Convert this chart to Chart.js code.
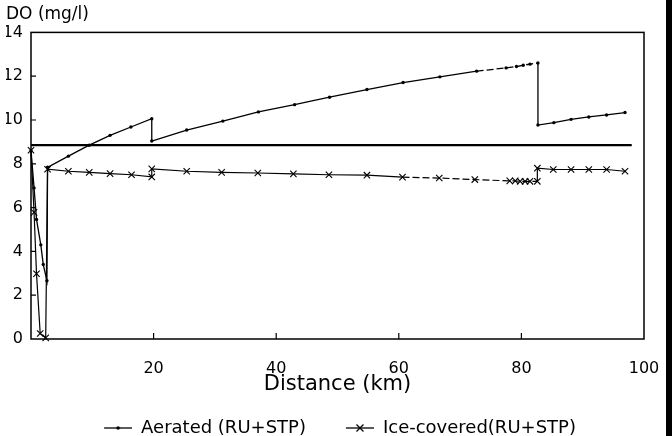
<!DOCTYPE html>
<html>
<head>
<meta charset="utf-8">
<script src="https://cdn.jsdelivr.net/npm/chart.js@4.4.0/dist/chart.umd.min.js"></script>
<style>
  html, body { margin: 0; padding: 0; background: #fff; }
  #wrap { position: relative; width: 672px; height: 436px; overflow: hidden; }
  #edge { position: absolute; right: 0; top: 0; width: 6px; height: 436px; background: #000; }
</style>
</head>
<body>
<div id="wrap">
  <canvas id="chart" width="672" height="436"></canvas>
  <div id="edge"></div>
</div>
<script>
// data
const aeratedKm = [0, 0.5, 0.9, 1.6, 2.0, 2.6, 2.7, 6.1, 9.5, 12.9, 16.3, 19.7, 19.7, 25.4, 31.3, 37.1, 43.0, 48.7, 54.8, 60.7, 66.7, 72.7, 77.5, 79.2, 80.3, 81.4, 82.7, 82.7, 85.3, 88.1, 91.0, 93.9, 96.9];
const aeratedDO = [8.6, 6.9, 5.46, 4.3, 3.4, 2.66, 7.84, 8.35, 8.85, 9.3, 9.68, 10.06, 9.04, 9.54, 9.95, 10.37, 10.7, 11.04, 11.39, 11.71, 11.97, 12.23, 12.38, 12.44, 12.5, 12.55, 12.6, 9.77, 9.88, 10.03, 10.14, 10.23, 10.34];

const iceKm = [0, 0.5, 0.9, 1.5, 2.4, 2.7, 6.1, 9.5, 12.9, 16.4, 19.7, 19.7, 25.4, 31.1, 37.0, 42.8, 48.6, 54.8, 60.6, 66.6, 72.4, 78.1, 79.0, 79.8, 80.6, 81.4, 82.6, 82.6, 85.2, 88.1, 91.0, 93.9, 96.9];
const iceDO = [8.62, 5.78, 2.98, 0.25, 0.05, 7.75, 7.66, 7.61, 7.55, 7.5, 7.4, 7.77, 7.66, 7.61, 7.58, 7.54, 7.5, 7.48, 7.39, 7.35, 7.28, 7.22, 7.22, 7.2, 7.2, 7.2, 7.2, 7.8, 7.74, 7.74, 7.74, 7.74, 7.66];

// horizontal reference level
const refKm = [0, 98];
const refDO = [8.85, 8.85];

const seriesNames = ["Aerated (RU+STP)", "Ice-covered(RU+STP)"];
const xLabels = { min: 0, max: 100, step: 20 };
const yLabels = { min: 0, max: 14, step: 2 };

Chart.defaults.font.family = "'DejaVu Sans', sans-serif";
Chart.defaults.color = "#000";

const toPts = (xs, ys) => xs.map((x, i) => ({ x: x, y: ys[i] }));

// legend icons: short line with the marker in the middle,
// blank strip on the left gives the gap between the two entries
const ICON_GAP = 30;
function makeIcon(kind) {
  const c = document.createElement("canvas");
  c.width = 28 + ICON_GAP; c.height = 12;
  const g = c.getContext("2d");
  const x0 = ICON_GAP, mid = x0 + 14;
  g.strokeStyle = "#000"; g.fillStyle = "#000"; g.lineWidth = 1.3;
  g.beginPath(); g.moveTo(x0, 6); g.lineTo(x0 + 28, 6); g.stroke();
  if (kind === "dot") {
    g.beginPath(); g.arc(mid, 6, 1.8, 0, Math.PI * 2); g.fill();
  } else {
    g.beginPath();
    g.moveTo(mid - 3.5, 2.5); g.lineTo(mid + 3.5, 9.5);
    g.moveTo(mid + 3.5, 2.5); g.lineTo(mid - 3.5, 9.5);
    g.stroke();
  }
  return c;
}
const icons = [makeIcon("dot"), makeIcon("x")];

const dashFrom = (lo, hi) => ctx => {
  const a = ctx.p0.parsed.x, b = ctx.p1.parsed.x;
  return (a >= lo && b <= hi && a !== b) ? [7, 3] : undefined;
};

// box + inward tick marks
const frame = {
  id: "frame",
  afterDatasetsDraw(chart) {
    const { ctx, chartArea: a, scales: { x, y } } = chart;
    ctx.save();
    ctx.strokeStyle = "#000";
    ctx.lineWidth = 1.5;
    ctx.strokeRect(a.left, a.top, a.right - a.left, a.bottom - a.top);
    ctx.lineWidth = 1.2;
    ctx.beginPath();
    y.ticks.forEach(t => {
      if (t.value > yLabels.min && t.value < yLabels.max) {
        const py = y.getPixelForValue(t.value);
        ctx.moveTo(a.left, py); ctx.lineTo(a.left + 5, py);
      }
    });
    x.ticks.forEach(t => {
      if (t.value > xLabels.min && t.value < xLabels.max) {
        const px = x.getPixelForValue(t.value);
        ctx.moveTo(px, a.bottom); ctx.lineTo(px, a.bottom - 6);
      }
    });
    ctx.stroke();
    ctx.restore();
  }
};

new Chart(document.getElementById("chart"), {
  type: "line",
  data: {
    datasets: [
      {
        label: seriesNames[0],
        data: toPts(aeratedKm, aeratedDO),
        borderColor: "#000", borderWidth: 1.3,
        pointStyle: "circle", pointRadius: 1.7, pointBackgroundColor: "#000", pointBorderWidth: 0,
        tension: 0, clip: false,
        segment: { borderDash: dashFrom(72, 82.7) }
      },
      {
        label: seriesNames[1],
        data: toPts(iceKm, iceDO),
        borderColor: "#000", borderWidth: 1.2,
        pointStyle: "crossRot", pointRadius: 4.5, pointBorderColor: "#000", pointBorderWidth: 1.1,
        tension: 0, clip: false,
        segment: { borderDash: dashFrom(60, 82.6) }
      },
      {
        label: "ref",
        data: toPts(refKm, refDO),
        borderColor: "#000", borderWidth: 2.2,
        pointRadius: 0, tension: 0, clip: false
      }
    ]
  },
  options: {
    responsive: false,
    animation: false,
    layout: { padding: { left: 6, right: 28, top: 0, bottom: -11 } },
    plugins: {
      tooltip: { enabled: false },
      title: {
        display: true, text: "DO (mg/l)", align: "start",
        font: { size: 17, weight: "normal" }, color: "#000",
        padding: { top: 4, bottom: 8 }
      },
      legend: {
        position: "bottom",
        labels: {
          usePointStyle: true, pointStyleWidth: 28 + ICON_GAP, boxHeight: 12,
          padding: 10,
          font: { size: 18 }, color: "#000",
          generateLabels: chart => chart.data.datasets.slice(0, 2).map((ds, i) => ({
            text: ds.label, pointStyle: icons[i], datasetIndex: i,
            fillStyle: "transparent", strokeStyle: "transparent", lineWidth: 0, hidden: false
          }))
        }
      }
    },
    scales: {
      x: {
        type: "linear", min: xLabels.min, max: xLabels.max,
        grid: { display: false, drawTicks: true, tickLength: 8 }, border: { display: false },
        ticks: { stepSize: xLabels.step, padding: 12, font: { size: 16 },
          callback: v => v === 0 ? "" : v },
        title: { display: true, text: "Distance (km)", font: { size: 21 }, padding: { top: 0, bottom: 12 } },
        afterFit: s => { s.height = 70; }
      },
      y: {
        min: yLabels.min, max: yLabels.max,
        grid: { display: false, drawTicks: false }, border: { display: false },
        ticks: { stepSize: yLabels.step, padding: 8, font: { size: 16 } },
        afterFit: s => { s.width = 25; }
      }
    }
  },
  plugins: [frame]
});
</script>
</body>
</html>
